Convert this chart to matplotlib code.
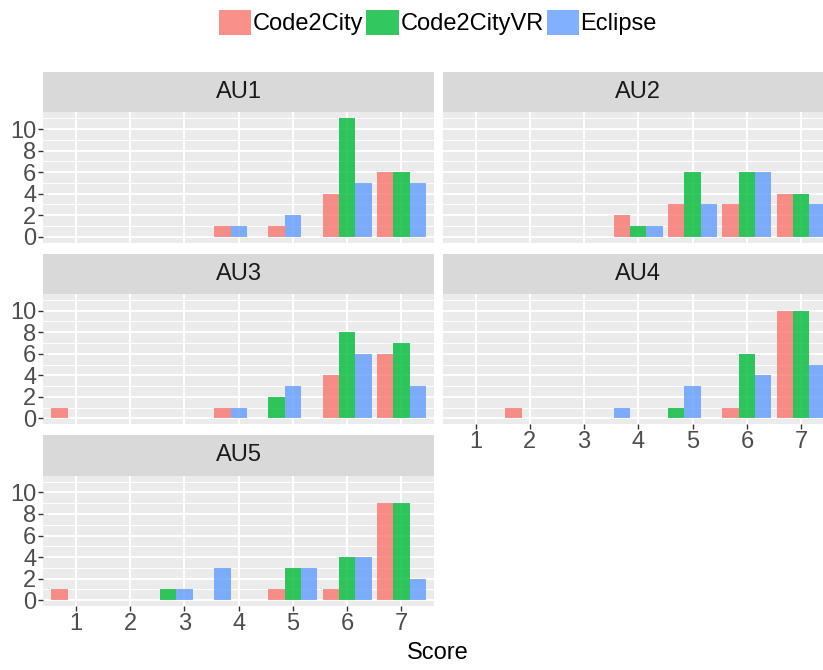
import matplotlib
matplotlib.use("Agg")
import matplotlib.pyplot as plt
from matplotlib.patches import Patch

plt.rcParams['font.family'] = ['Liberation Sans', 'DejaVu Sans']

# counts per score (1..7) for each facet
scores = [1, 2, 3, 4, 5, 6, 7]
facets = ["AU1", "AU2", "AU3", "AU4", "AU5"]
tools = ["Code2City", "Code2CityVR", "Eclipse"]

code2city = [
    [0, 0, 0, 1, 1, 4, 6],
    [0, 0, 0, 2, 3, 3, 4],
    [1, 0, 0, 1, 0, 4, 6],
    [0, 1, 0, 0, 0, 1, 10],
    [1, 0, 0, 0, 1, 1, 9],
]
code2city_vr = [
    [0, 0, 0, 0, 0, 11, 6],
    [0, 0, 0, 1, 6, 6, 4],
    [0, 0, 0, 0, 2, 8, 7],
    [0, 0, 0, 0, 1, 6, 10],
    [0, 0, 1, 0, 3, 4, 9],
]
eclipse = [
    [0, 0, 0, 1, 2, 5, 5],
    [0, 0, 0, 1, 3, 6, 3],
    [0, 0, 0, 1, 3, 6, 3],
    [0, 0, 0, 1, 3, 4, 5],
    [0, 0, 1, 3, 3, 4, 2],
]
colors = ["#F8766D", "#00BA38", "#619CFF"]

W, H = 823, 670
fig = plt.figure(figsize=(W / 100, H / 100), dpi=100)

panel_w, panel_h, strip_h = 390.7, 130.4, 40.5
col_x = [43.3, 443.0]
row_y = [112.3, 294.0, 475.7]
fs = 17


def px_axes(x, y, w, h):
    return fig.add_axes([x / W, 1 - (y + h) / H, w / W, h / H])


series = [code2city, code2city_vr, eclipse]
bar_w = 0.9 / 3

for k, name in enumerate(facets):
    row, col = divmod(k, 2)
    x0, y0 = col_x[col], row_y[row]
    ax = px_axes(x0, y0, panel_w, panel_h)
    strip = px_axes(x0, y0 - strip_h, panel_w, strip_h)
    strip.set_facecolor("#D9D9D9")
    strip.set_xticks([])
    strip.set_yticks([])
    for s in strip.spines.values():
        s.set_visible(False)
    strip.text(0.5, 0.5, name, ha="center", va="center", fontsize=fs,
               color="#1A1A1A", transform=strip.transAxes)

    ax.set_facecolor("#EBEBEB")
    # dodge: bars present at a score fill slots from the left
    for j, sc in enumerate(scores):
        slot = 0
        for g in range(3):
            v = series[g][k][j]
            if v > 0:
                ax.bar(sc + bar_w * (slot - 1), v, width=bar_w,
                       color=colors[g], alpha=0.8, linewidth=0, zorder=2)
                slot += 1

    ax.set_xlim(0.4, 7.6)
    ax.set_ylim(-0.55, 11.55)
    ax.set_xticks(scores)
    ax.set_yticks([0, 2, 4, 6, 8, 10])
    ax.set_yticks([1, 3, 5, 7, 9, 11], minor=True)
    ax.grid(which="major", color="white", linewidth=1.4, zorder=0)
    ax.grid(which="minor", axis="y", color="white", linewidth=0.7, zorder=0)
    ax.set_axisbelow(True)
    for s in ax.spines.values():
        s.set_visible(False)

    show_y = col == 0
    show_x = name in ("AU4", "AU5")
    ax.tick_params(axis="y", which="major", length=3.6 if show_y else 0,
                   width=1, color="#333333", labelleft=show_y,
                   labelsize=fs, labelcolor="#4D4D4D", pad=1.5)
    ax.tick_params(axis="x", which="major", length=3.6 if show_x else 0,
                   width=1, color="#333333", labelbottom=show_x,
                   labelsize=fs, labelcolor="#4D4D4D", pad=1.5)
    ax.tick_params(which="minor", length=0)

fig.text(438 / W, 1 - 653 / H, "Score", ha="center", va="center",
         fontsize=fs, color="black")

handles = [Patch(facecolor=c, alpha=0.8, linewidth=0) for c in colors]
fig.legend(handles, tools, loc="center", bbox_to_anchor=(438 / W, 1 - 22.5 / H),
           ncol=3, frameon=False, fontsize=fs, handlelength=1.36,
           handleheight=1.31, handletextpad=0.08, columnspacing=0.12,
           borderpad=0, borderaxespad=0)

fig.savefig("out.png", dpi=100)
